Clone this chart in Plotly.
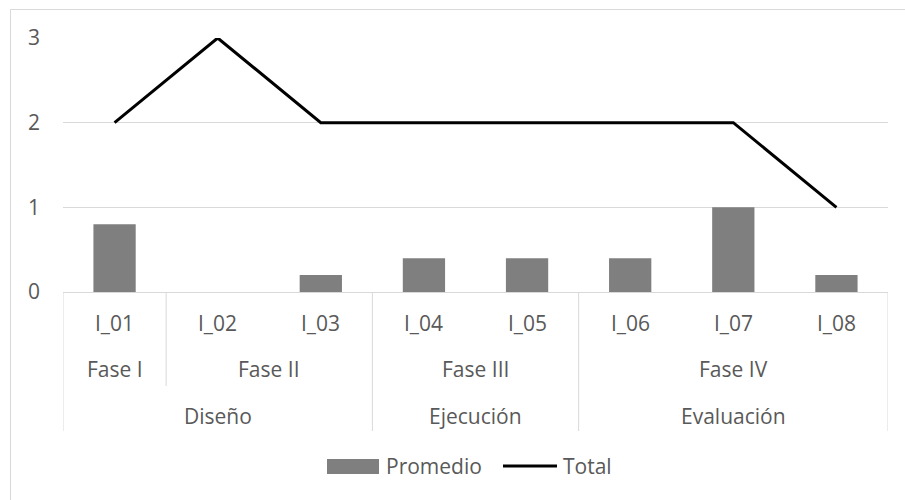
import plotly.graph_objects as go

# Indicadores agrupados por fase y etapa
indicadores = ["I_01", "I_02", "I_03", "I_04", "I_05", "I_06", "I_07", "I_08"]
fases = ["Fase I", "Fase II", "Fase II", "Fase III", "Fase III", "Fase IV", "Fase IV", "Fase IV"]
etapas = ["Diseño", "Diseño", "Diseño", "Ejecución", "Ejecución", "Evaluación", "Evaluación", "Evaluación"]
promedio = [0.8, 0.0, 0.2, 0.4, 0.4, 0.4, 1.0, 0.2]
total = [2, 3, 2, 2, 2, 2, 2, 1]
y_ticks = [0, 1, 2, 3]

W, H = 905, 500
ML, MR, MT, MB = 63, 17, 38, 208
PW, PH = W - ML - MR, H - MT - MB

FONT = "Open Sans"
FS = 21
TXT = "#595959"
GRID = "#d9d9d9"
BAR = "#7f7f7f"


def px_x(px):
    return (px - ML) / PW


def px_y(py):
    return (H - MB - py) / PH


def runs(labels):
    """Consecutive runs of equal labels as (label, start, end) index tuples."""
    out = []
    start = 0
    for i in range(1, len(labels) + 1):
        if i == len(labels) or labels[i] != labels[start]:
            out.append((labels[start], start, i - 1))
            start = i
    return out


fig = go.Figure()
fig.add_trace(go.Bar(x=indicadores, y=promedio, name="Promedio",
                     marker=dict(color=BAR, line=dict(width=0)), showlegend=False))
fig.add_trace(go.Scatter(x=indicadores, y=total, name="Total", mode="lines",
                         line=dict(color="black", width=3), showlegend=False))

shapes = []
annotations = []


def label(x, y, text, xref="x", xanchor="center"):
    annotations.append(dict(x=x, y=y, xref=xref, yref="paper", text=text,
                            showarrow=False, font=dict(family=FONT, size=FS, color=TXT),
                            xanchor=xanchor, yanchor="middle"))


# Row 1: indicator labels
for i, lab in enumerate(indicadores):
    label(i, px_y(323), lab)

# Row 2: phases, Row 3: stages
for lab, a, b in runs(fases):
    label((a + b) / 2, px_y(369), lab)
for lab, a, b in runs(etapas):
    label((a + b) / 2, px_y(416), lab)

# Group separators: full height at stage boundaries, shorter at phase boundaries
stage_edges = {-0.5} | {b + 0.5 for _, _, b in runs(etapas)}
phase_edges = {b + 0.5 for _, _, b in runs(fases)} - stage_edges
for xe in sorted(stage_edges):
    shapes.append(dict(type="line", xref="x", yref="paper", x0=xe, x1=xe,
                       y0=0, y1=px_y(431), line=dict(color=GRID, width=1)))
for xe in sorted(phase_edges):
    shapes.append(dict(type="line", xref="x", yref="paper", x0=xe, x1=xe,
                       y0=0, y1=px_y(386), line=dict(color=GRID, width=1)))

# Chart frame
shapes.append(dict(type="rect", xref="paper", yref="paper",
                   x0=px_x(10.5), x1=px_x(920), y0=px_y(9.5), y1=px_y(520),
                   line=dict(color=GRID, width=1), layer="below"))

# Legend
ly = 466
shapes.append(dict(type="rect", xref="paper", yref="paper",
                   x0=px_x(327), x1=px_x(379), y0=px_y(459), y1=px_y(474),
                   fillcolor=BAR, line=dict(width=0)))
label(px_x(384), px_y(ly), "Promedio", xref="paper", xanchor="left")
shapes.append(dict(type="line", xref="paper", yref="paper",
                   x0=px_x(503), x1=px_x(557), y0=px_y(ly), y1=px_y(ly),
                   line=dict(color="black", width=3)))
label(px_x(561), px_y(ly), "Total", xref="paper", xanchor="left")

fig.update_layout(
    width=W, height=H,
    margin=dict(l=ML, r=MR, t=MT, b=MB),
    paper_bgcolor="white", plot_bgcolor="white",
    bargap=0.59,
    showlegend=False,
    shapes=shapes,
    annotations=annotations,
    font=dict(family=FONT, size=FS, color=TXT),
)
fig.update_xaxes(type="category", range=[-0.5, len(indicadores) - 0.5],
                 showticklabels=False, showgrid=False, showline=True,
                 linecolor=GRID, linewidth=1, ticks="", zeroline=False)
fig.update_yaxes(range=[0, 3], tickvals=y_ticks, showgrid=True, gridcolor=GRID,
                 gridwidth=1, zeroline=False, showline=False, ticks="",
                 ticklabelstandoff=22,
                 tickfont=dict(family=FONT, size=FS, color=TXT))

fig.write_html("out.html")
